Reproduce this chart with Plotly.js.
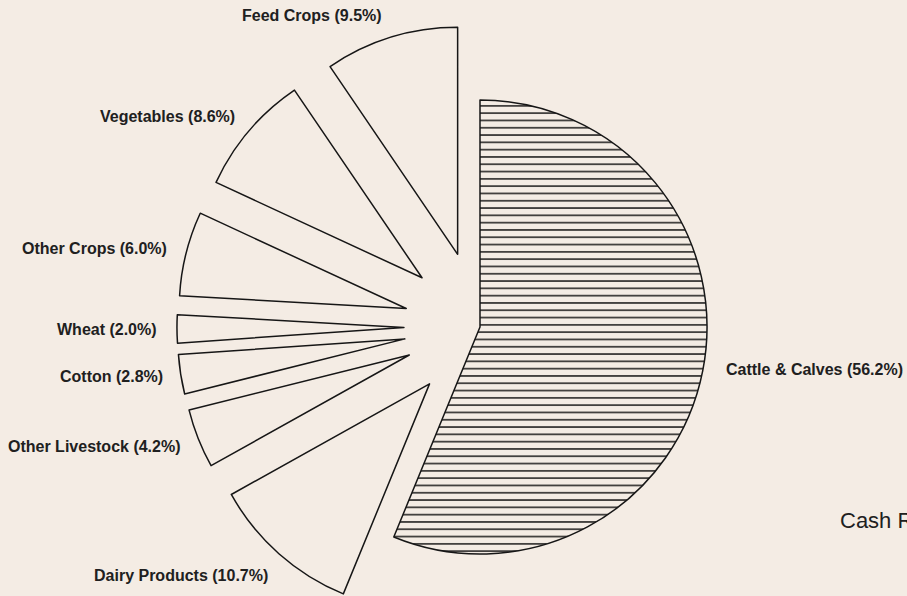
<!DOCTYPE html>
<html>
<head>
<meta charset="utf-8">
<script src="https://cdn.plot.ly/plotly-3.0.1.min.js"></script>
<style>
  html, body { margin: 0; padding: 0; background: #f4ece4; overflow: hidden; }
  #wrap { width: 907px; height: 596px; overflow: hidden; position: relative; }
  #chart { width: 907px; height: 680px; }
</style>
</head>
<body>
<div id="wrap"><div id="chart"></div></div>
<script>
// ---- data ----
const categories = ['Cattle & Calves', 'Dairy Products', 'Other Livestock', 'Cotton',
                    'Wheat', 'Other Crops', 'Vegetables', 'Feed Crops'];
const shares = [56.2, 10.7, 4.2, 2.8, 2.0, 6.0, 8.6, 9.5];
const hatched = [true, false, false, false, false, false, false, false];
const titleText = 'Cash Receipts';

// ---- layout helpers (positions, not data) ----
const W = 907, H = 680;
const BG = '#f4ece4';
const INK = '#161616';
const centerX = 480, centerY = 327, radius = 227, explode = 0.335;
const half = radius * (1 + explode);
const pulls = hatched.map(h => h ? 0 : explode);
const labelPos = [[814, 370], [181, 575], [94, 446], [111, 376],
                  [107, 329], [94, 248], [167, 116], [312, 15]];

const px = (x, y) => ({ x: x / W, y: 1 - y / H });

const trace = {
  type: 'pie',
  values: shares,
  labels: categories,
  sort: false,
  direction: 'clockwise',
  rotation: 0,
  pull: pulls,
  textinfo: 'none',
  hoverinfo: 'none',
  domain: {
    x: [(centerX - half) / W, (centerX + half) / W],
    y: [(H - (centerY + half)) / H, (H - (centerY - half)) / H]
  },
  marker: {
    colors: shares.map(() => BG),
    line: { color: INK, width: 1.5 },
    pattern: {
      shape: hatched.map(h => h ? '-' : ''),
      fgcolor: INK,
      bgcolor: BG,
      size: 7.3,
      solidity: 0.2
    }
  }
};

const annotations = categories.map((c, i) => {
  const p = px(labelPos[i][0], labelPos[i][1]);
  return {
    xref: 'paper', yref: 'paper', x: p.x, y: p.y,
    xanchor: 'center', yanchor: 'middle', showarrow: false,
    text: c + ' (' + shares[i].toFixed(1) + '%)',
    font: { family: 'Liberation Sans, Arial, sans-serif', size: 16, color: '#202020', weight: 'bold' }
  };
});
const tp = px(838, 520);
annotations.push({
  xref: 'paper', yref: 'paper', x: tp.x, y: tp.y,
  xanchor: 'left', yanchor: 'middle', showarrow: false,
  text: titleText,
  font: { family: 'Liberation Sans, Arial, sans-serif', size: 22, color: '#202020' }
});

const layout = {
  width: W, height: H,
  margin: { l: 0, r: 0, t: 0, b: 0, pad: 0 },
  paper_bgcolor: BG, plot_bgcolor: BG,
  showlegend: false,
  annotations: annotations
};

Plotly.newPlot('chart', [trace], layout, { staticPlot: true, displayModeBar: false });
</script>
</body>
</html>
